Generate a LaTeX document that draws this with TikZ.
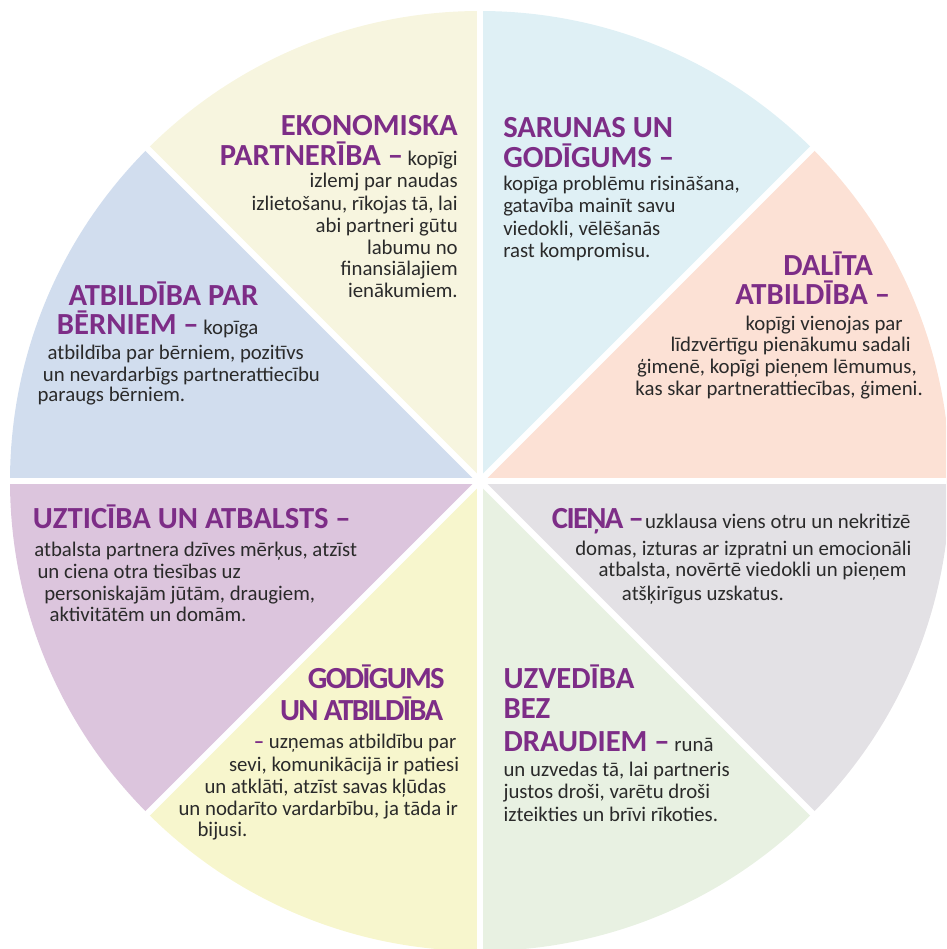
\documentclass[tikz,border=0pt]{standalone}
\usepackage{fontspec}
\setmainfont{Carlito}
\usepackage{xcolor}
\definecolor{ekoFill}{HTML}{F7F5DF}
\definecolor{sarFill}{HTML}{DFF0F5}
\definecolor{dalFill}{HTML}{FCE1D5}
\definecolor{cieFill}{HTML}{E3E1E5}
\definecolor{uzvFill}{HTML}{E8F1E2}
\definecolor{godFill}{HTML}{F7F6CD}
\definecolor{uztFill}{HTML}{DCC5DD}
\definecolor{berFill}{HTML}{D1DDEE}
\definecolor{ttlPurple}{HTML}{7D2D87}
\definecolor{bodyGray}{HTML}{2A2A2A}
\newcommand{\ttl}[1]{{\fontsize{23}{26}\selectfont\bfseries\color{ttlPurple}#1}}
\newcommand{\ttlc}[1]{{\fontsize{23}{26}\selectfont\bfseries\addfontfeature{LetterSpace=-5.5}\color{ttlPurple}#1}}

\begin{document}
\begin{tikzpicture}[x=0.75pt,y=0.75pt,yscale=-1,xscale=1,
    txt/.style={font=\fontsize{15.6}{18}\selectfont, text=bodyGray, inner sep=0pt},
    divider/.style={draw=white, line width=4.6pt}]
        \clip (0,0) rectangle (946,949);
        \coordinate (ctr) at (480,481);

        \begin{scope}
        \clip (ctr) circle (470);
        %Shape: Circle Sector
        \fill [dalFill] (ctr) -- ([shift={(315:700)}]ctr) -- ([shift={(360:700)}]ctr) -- cycle;
        %Shape: Circle Sector
        \fill [sarFill] (ctr) -- ([shift={(270:700)}]ctr) -- ([shift={(315:700)}]ctr) -- cycle;
        %Shape: Circle Sector
        \fill [ekoFill] (ctr) -- ([shift={(225:700)}]ctr) -- ([shift={(270:700)}]ctr) -- cycle;
        %Shape: Circle Sector
        \fill [berFill] (ctr) -- ([shift={(180:700)}]ctr) -- ([shift={(225:700)}]ctr) -- cycle;
        %Shape: Circle Sector
        \fill [uztFill] (ctr) -- ([shift={(135:700)}]ctr) -- ([shift={(180:700)}]ctr) -- cycle;
        %Shape: Circle Sector
        \fill [godFill] (ctr) -- ([shift={(90:700)}]ctr) -- ([shift={(135:700)}]ctr) -- cycle;
        %Shape: Circle Sector
        \fill [uzvFill] (ctr) -- ([shift={(45:700)}]ctr) -- ([shift={(90:700)}]ctr) -- cycle;
        %Shape: Circle Sector
        \fill [cieFill] (ctr) -- ([shift={(0:700)}]ctr) -- ([shift={(45:700)}]ctr) -- cycle;
        \end{scope}

        %Straight Lines
        \draw [divider] ([shift={(0:480)}]ctr) -- ([shift={(180:480)}]ctr);
        \draw [divider] ([shift={(90:480)}]ctr) -- ([shift={(270:480)}]ctr);
        \draw [divider] ([shift={(45:480)}]ctr) -- ([shift={(225:480)}]ctr);
        \draw [divider] ([shift={(135:480)}]ctr) -- ([shift={(315:480)}]ctr);

        % Text Node
        \node [txt, anchor=base east] (eko1) at (458,135.7) {\ttl{EKONOMISKA}};
        \node [txt, anchor=base east] (eko2) at (458,165.5) {\ttl{PARTNERĪBA –} kopīgi};
        \node [txt, anchor=base east] (eko3) at (458,187.5) {izlemj par naudas};
        \node [txt, anchor=base east] (eko4) at (458,210) {izlietošanu, rīkojas tā, lai};
        \node [txt, anchor=base east] (eko5) at (458,232.3) {abi partneri gūtu};
        \node [txt, anchor=base east] (eko6) at (458,254) {labumu no};
        \node [txt, anchor=base east] (eko7) at (458,275.7) {finansiālajiem};
        \node [txt, anchor=base east] (eko8) at (458,297.5) {ienākumiem.};

        % Text Node
        \node [txt, anchor=base west] (sar1) at (503,137.3) {\ttl{SARUNAS UN}};
        \node [txt, anchor=base west] (sar2) at (503,167.3) {\ttl{GODĪGUMS –}};
        \node [txt, anchor=base west] (sar3) at (503,190) {kopīga problēmu risināšana,};
        \node [txt, anchor=base west] (sar4) at (503,212.7) {gatavība mainīt savu};
        \node [txt, anchor=base west] (sar5) at (503,235) {viedokli, vēlēšanās};
        \node [txt, anchor=base west] (sar6) at (503,257.7) {rast kompromisu.};

        % Text Node
        \node [txt, anchor=base west] (dal1) at (783,275) {\ttl{DALĪTA}};
        \node [txt, anchor=base west] (dal2) at (735,304.3) {\ttl{ATBILDĪBA –}};
        \node [txt, anchor=base east] (dal3) at (903,330) {kopīgi vienojas par};
        \node [txt, anchor=base east] (dal4) at (911,351.7) {līdzvērtīgu pienākumu sadali};
        \node [txt, anchor=base east] (dal5) at (917,373.3) {ģimenē, kopīgi pieņem lēmumus,};
        \node [txt, anchor=base east] (dal6) at (923,395) {kas skar partnerattiecības, ģimeni.};

        % Text Node
        \node [txt, anchor=base west] (ber1) at (68.3,305.7) {\ttl{ATBILDĪBA PAR}};
        \node [txt, anchor=base west] (ber2) at (56.7,334.3) {\ttl{BĒRNIEM –} kopīga};
        \node [txt, anchor=base west] (ber3) at (47.3,359.3) {atbildība par bērniem, pozitīvs};
        \node [txt, anchor=base west] (ber4) at (42.7,381) {un nevardarbīgs partnerattiecību};
        \node [txt, anchor=base west] (ber5) at (37.3,401.7) {paraugs bērniem.};

        % Text Node
        \node [txt, anchor=base west] (uzt1) at (32.7,528.3) {\ttl{UZTICĪBA UN ATBALSTS –}};
        \node [txt, anchor=base west] (uzt2) at (34,556.7) {atbalsta partnera dzīves mērķus, atzīst};
        \node [txt, anchor=base west] (uzt3) at (37.3,578.3) {un ciena otra tiesības uz};
        \node [txt, anchor=base west] (uzt4) at (44,600) {personiskajām jūtām, draugiem,};
        \node [txt, anchor=base west] (uzt5) at (49.3,621.7) {aktivitātēm un domām.};

        % Text Node
        \node [txt, anchor=base west] (cie1) at (551.7,528.3) {\ttlc{CIEŅA –}\hspace{1pt}uzklausa viens otru un nekritizē};
        \node [txt, anchor=base west] (cie2) at (575,555) {domas, izturas ar izpratni un emocionāli};
        \node [txt, anchor=base west] (cie3) at (598.3,576.7) {atbalsta, novērtē viedokli un pieņem};
        \node [txt, anchor=base west] (cie4) at (621.7,600) {atšķirīgus uzskatus.};

        % Text Node
        \node [txt, anchor=base east] (god1) at (445,688.3) {\ttlc{GODĪGUMS}};
        \node [txt, anchor=base east] (god2) at (443.3,720) {\ttlc{UN ATBILDĪBA}};
        \node [txt, anchor=base east] (god3) at (456.7,748.3) {{\bfseries\color{ttlPurple}–} uzņemas atbildību par};
        \node [txt, anchor=base east] (god4) at (459.3,771.7) {sevi, komunikācijā ir patiesi};
        \node [txt, anchor=base east] (god5) at (446.7,793.3) {un atklāti, atzīst savas kļūdas};
        \node [txt, anchor=base east] (god6) at (458.3,815) {un nodarīto vardarbību, ja tāda ir};
        \node [txt, anchor=base west] (god7) at (197.3,836.7) {bijusi.};

        % Text Node
        \node [txt, anchor=base west] (uzv1) at (503.3,688.3) {\ttl{UZVEDĪBA}};
        \node [txt, anchor=base west] (uzv2) at (503.3,718.3) {\ttl{BEZ}};
        \node [txt, anchor=base west] (uzv3) at (503.3,751.7) {\ttl{DRAUDIEM –} runā};
        \node [txt, anchor=base west] (uzv4) at (503.3,776.7) {un uzvedas tā, lai partneris};
        \node [txt, anchor=base west] (uzv5) at (503.3,798.3) {justos droši, varētu droši};
        \node [txt, anchor=base west] (uzv6) at (503.3,821.7) {izteikties un brīvi rīkoties.};

\end{tikzpicture}
\end{document}
